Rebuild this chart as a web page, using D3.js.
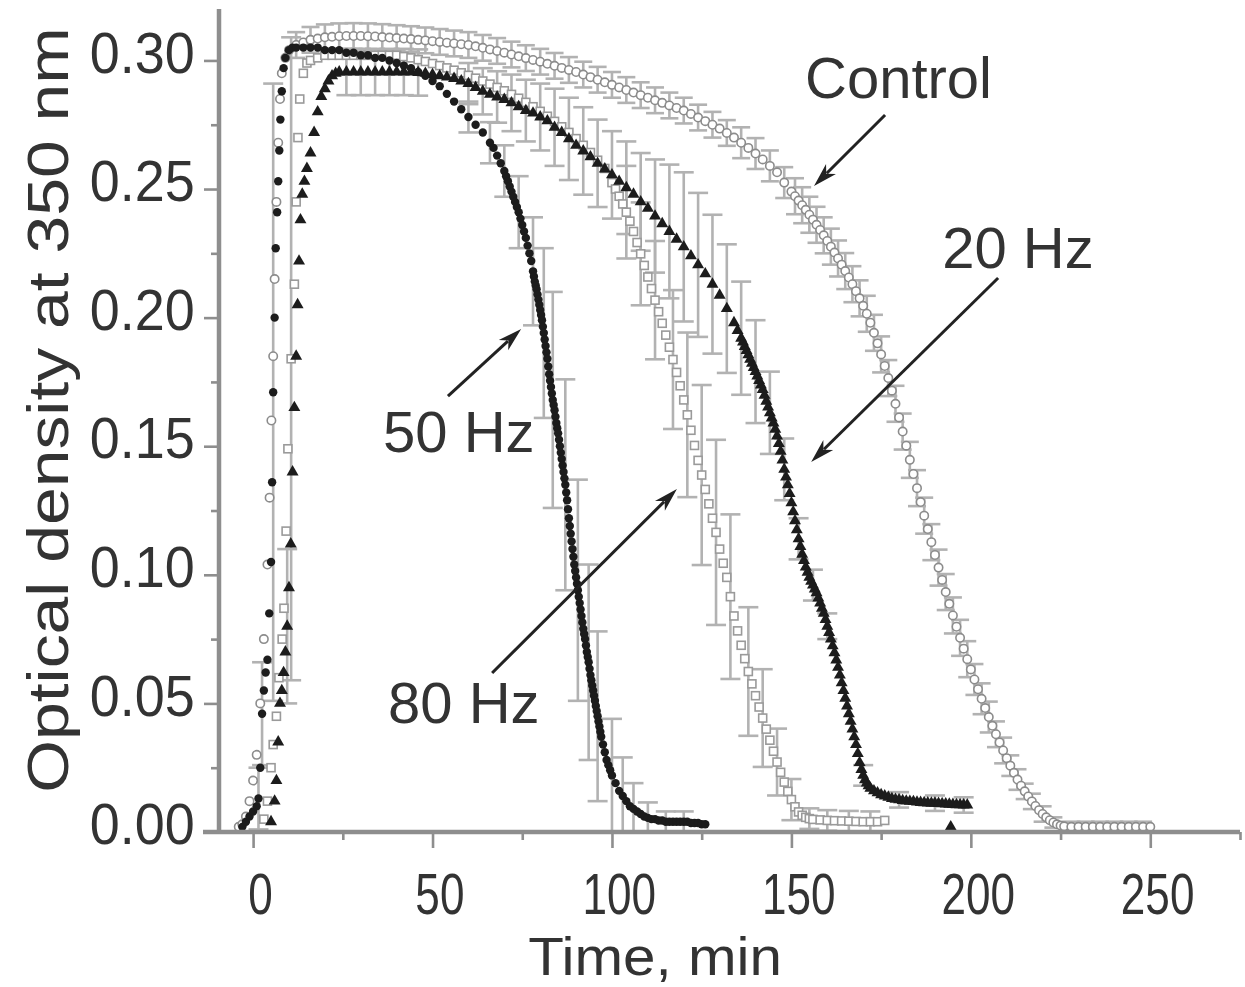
<!DOCTYPE html>
<html><head><meta charset="utf-8">
<script src="https://cdn.jsdelivr.net/npm/d3@7"></script>
<style>body{margin:0;background:#fff}svg{display:block}</style>
</head><body><svg id="c" width="1245" height="987"></svg>
<script>
// ---------------- data (time [min], optical density) ----------------
const xTicks = [0, 50, 100, 150, 200, 250];
const xMinor = [25, 75, 125, 175, 225, 275];
const yTicks = [0.00, 0.05, 0.10, 0.15, 0.20, 0.25, 0.30];
const yMinor = [0.025, 0.075, 0.125, 0.175, 0.225, 0.275];

const control = [[-4,0.002],[-3,0.003],[-2,0.006],[-1,0.012],[0,0.02],[1,0.03],[2,0.05],[3,0.075],[4,0.104],[4.6,0.13],[5.1,0.16],[5.6,0.185],[6,0.215],[6.5,0.245],[7,0.268],[7.5,0.285],[8,0.295],[9,0.301],[10,0.304],
[12,0.306],[14,0.307],[16,0.308],[18,0.3085],[20,0.309],[22,0.3092],[24,0.3094],[26,0.3095],[28,0.3095],[30,0.3095],[32,0.3094],[34,0.3093],[36,0.3091],[38,0.3089],[40,0.3087],[42,0.3085],[44,0.3083],[46,0.308],[48,0.3078],[50,0.3075],[52,0.3072],[54,0.3069],[56,0.3066],[58,0.3063],
[60,0.306],[62,0.3055],[64,0.3049],[66,0.3043],[68,0.3037],[70,0.303],[72,0.3023],[74,0.3016],[76,0.3009],[78,0.3002],[80,0.2995],[82,0.2987],[84,0.2979],[86,0.2971],[88,0.2963],[90,0.2955],[92,0.2945],[94,0.2935],[96,0.2925],[98,0.2915],[100,0.2905],
[102,0.2895],[104,0.2885],[106,0.2875],[108,0.2865],[110,0.2855],[112,0.2845],[114,0.2835],[116,0.2825],[118,0.2815],[120,0.2805],[122,0.2792],[124,0.2778],[126,0.2764],[128,0.275],[130,0.2735],[132,0.2718],[134,0.27],[136,0.268],[138,0.266],[140,0.2638],[142,0.2615],[144,0.259],[146,0.2565],[148,0.2525],[150,0.249],
[151,0.2472],[152,0.2455],[153,0.2437],[154,0.2419],[155,0.24],[156,0.2381],[157,0.2361],[158,0.2341],[159,0.232],[160,0.2298],[161,0.2276],[162,0.2253],[163,0.223],[164,0.2206],[165,0.2181],[166,0.2156],[167,0.213],[168,0.2103],[169,0.2075],[170,0.2046],[171,0.2015],[172,0.198],
[173,0.1941],[174,0.19],[175,0.1857],[176,0.1812],[177,0.1765],[178,0.1716],[179,0.1665],[180,0.1612],[181,0.1557],[182,0.1502],[183,0.1447],[184,0.1392],[185,0.1337],[186,0.1283],[187,0.123],[188,0.1178],[189,0.1127],[190,0.1077],[191,0.1028],[192,0.098],[193,0.0933],[194,0.0887],[195,0.0842],[196,0.0798],[197,0.0755],[198,0.0713],[199,0.0672],[200,0.0632],
[201,0.0593],[202,0.0555],[203,0.0518],[204,0.0482],[205,0.0447],[206,0.0413],[207,0.038],[208,0.0348],[209,0.0317],[210,0.0287],[211,0.0258],[212,0.023],[213,0.0204],[214,0.018],[215,0.0158],[216,0.0138],[217,0.0119],[218,0.0101],[219,0.0085],[220,0.007],[221,0.0057],[222,0.0046],[223,0.0037],[224,0.003],[225,0.0025],[226,0.0022],
[228,0.002],[230,0.002],[232,0.002],[234,0.002],[236,0.002],[238,0.002],[240,0.002],[242,0.002],[244,0.002],[246,0.002],[248,0.002],[250,0.002]];

const hz80 = [[3,0.005],[4,0.012],[5,0.025],[5.6,0.034],[6.5,0.045],[7.2,0.06],[8.1,0.075],[8.6,0.087],[9.2,0.117],[9.7,0.149],[10.6,0.184],[11.5,0.213],[12,0.245],[12.5,0.27],[13,0.285],[14,0.295],[15,0.299],[16,0.3],
[18,0.301],[20,0.302],[22,0.302],[24,0.302],[26,0.302],[28,0.302],[30,0.302],[32,0.302],[34,0.302],[36,0.302],[38,0.302],[40,0.302],[42,0.3015],[44,0.301],[46,0.3003],[48,0.2996],[50,0.2988],[52,0.298],[54,0.2971],[56,0.2962],[58,0.2952],[60,0.2942],
[62,0.2931],[64,0.292],[66,0.2908],[68,0.2895],[70,0.2882],[72,0.2868],[74,0.2853],[76,0.2837],[78,0.282],[80,0.2802],[82,0.2783],[84,0.2763],[86,0.2742],[88,0.272],[90,0.2696],[92,0.267],[94,0.2642],[96,0.2612],[98,0.258],
[100,0.2525],[101,0.25],[102,0.2472],[103,0.2442],[104,0.241],[105,0.2375],[106,0.2335],[107,0.2292],[108,0.2248],[109,0.2203],[110,0.2158],[111,0.2113],[112,0.2068],[113,0.2023],[114,0.1978],[115,0.1932],[116,0.1885],[117,0.1837],[118,0.1787],[119,0.1735],
[120,0.168],[121,0.1622],[122,0.1562],[123,0.1503],[124,0.1445],[125,0.1388],[126,0.1332],[127,0.1276],[128,0.122],[129,0.1165],[130,0.11],[131,0.1045],[132,0.099],[133,0.0915],[134,0.084],[135,0.0782],[136,0.0726],[137,0.0674],[138,0.0624],[139,0.0576],[140,0.053],
[141,0.0486],[142,0.0443],[143,0.04],[144,0.0357],[145,0.0314],[146,0.0272],[147,0.0232],[148,0.0194],[149,0.0158],[150,0.0126],[151,0.0098],[152,0.0078],[153,0.0065],[154,0.0057],[155,0.0052],[156,0.0049],[158,0.0047],[160,0.0045],[162,0.0044],[164,0.0043],[166,0.0042],[168,0.0041],[170,0.004],[172,0.004],[174,0.004],[176,0.0045]];

const hz20 = [[5,0.004],[6,0.012],[6.5,0.02],[7,0.035],[7.5,0.05],[8,0.055],[8.5,0.062],[9,0.07],[9.5,0.08],[10,0.095],[10.5,0.112],[11,0.14],[11.5,0.165],[12,0.185],[12.4,0.205],[12.8,0.222],[13.2,0.238],[13.7,0.248],[14.3,0.253],[15,0.258],[16,0.264],[17,0.272],[18,0.28],[19,0.286],[20,0.289],[21,0.292],[22,0.294],[23,0.295],[24,0.2955],
[26,0.2955],[28,0.2955],[30,0.2955],[32,0.2955],[34,0.2955],[36,0.2955],[38,0.2955],[40,0.2955],[42,0.2955],[44,0.2955],[46,0.2953],[48,0.295],[50,0.2945],[52,0.294],[54,0.2935],[56,0.293],[58,0.292],[60,0.291],[62,0.2895],[64,0.288],[66,0.2868],[68,0.2858],[70,0.2848],[72,0.2835],[74,0.282],[76,0.2805],[78,0.2795],[80,0.278],
[82,0.2765],[84,0.274],[86,0.272],[88,0.2695],[90,0.267],[92,0.2648],[94,0.2625],[96,0.26],[98,0.2578],[100,0.2555],[102,0.253],[104,0.2505],[106,0.248],[108,0.245],[110,0.2425],[112,0.2395],[114,0.2365],[116,0.2335],[118,0.2305],[120,0.2275],[122,0.224],[124,0.2205],[126,0.217],[128,0.213],[130,0.2087],[132,0.2035],[134,0.198],[135,0.195],
[136,0.192],[136.5,0.1905],[137,0.1888],[137.5,0.1872],[138,0.1855],[138.5,0.1838],[139,0.1822],[139.5,0.1806],[140,0.179],[140.5,0.1773],[141,0.1755],[141.5,0.1738],[142,0.172],[142.5,0.1698],[143,0.1675],[143.5,0.1652],[144,0.163],[144.5,0.161],[145,0.159],[145.5,0.1566],[146,0.154],[146.5,0.151],[147,0.148],[147.5,0.1446],[148,0.141],[148.5,0.138],[149,0.135],[149.5,0.1316],
[150,0.128],[150.5,0.1245],[151,0.121],[151.5,0.1175],[152,0.114],[152.5,0.111],[153,0.108],[153.5,0.1055],[154,0.103],[154.5,0.101],[155,0.099],[155.5,0.0975],[156,0.096],[156.5,0.0945],[157,0.093],[157.5,0.091],[158,0.089],[158.5,0.087],[159,0.085],[159.5,0.0826],[160,0.08],[160.5,0.0776],[161,0.075],[161.5,0.0724],[162,0.0697],[162.5,0.0669],
[163,0.064],[163.5,0.061],[164,0.058],[164.5,0.055],[165,0.052],[165.5,0.049],[166,0.046],[166.5,0.043],[167,0.04],[167.5,0.037],[168,0.034],[168.5,0.0305],[169,0.027],[169.5,0.0243],[170,0.022],[170.5,0.0203],[171,0.019],[171.5,0.018],[172,0.017],[173,0.016],[174,0.0152],[175,0.0145],[176,0.014],[177,0.0135],[178,0.013],[179,0.0127],[180,0.0125],
[181,0.0122],[182,0.012],[183,0.0119],[184,0.0118],[185,0.0116],[186,0.0115],[187,0.0114],[188,0.0113],[189,0.0112],[190,0.0112],[191,0.0111],[192,0.011],[193,0.0109],[194,0.0108],[195,0.0107],[196,0.0106],[197,0.0106],[198,0.0105],[199,0.0105],[194.4,0.002]];

const hz50 = [[-3,0.002],[-2,0.004],[-1,0.006],[0,0.008],[1,0.01],[1.5,0.013],[2,0.025],[2.5,0.046],[3,0.055],[3.5,0.062],[4,0.067],[4.5,0.085],[5,0.105],[5.3,0.136],[5.6,0.171],[6,0.2],[6.3,0.227],[6.7,0.241],[7,0.253],[7.3,0.265],[7.6,0.277],[8,0.288],[8.5,0.297],[9,0.301],[10,0.304],[11,0.305],[12,0.305],
[14,0.305],[16,0.305],[18,0.305],[20,0.304],[22,0.304],[24,0.304],[26,0.303],[28,0.303],[30,0.302],[32,0.302],[34,0.301],[36,0.301],[38,0.3],[40,0.299],[42,0.298],[44,0.297],[46,0.2955],[48,0.294],[50,0.292],[52,0.29],[54,0.287],[56,0.284],[58,0.281],[60,0.278],[62,0.275],[64,0.272],[66,0.268],
[67,0.266],[68,0.263],[69,0.26],[70,0.257],[70.5,0.255],[71,0.253],[71.5,0.251],[72,0.249],[72.5,0.247],[73,0.245],[73.5,0.243],[74,0.241],[74.5,0.2385],[75,0.236],[75.5,0.2335],[76,0.231],[76.5,0.228],[77,0.225],[77.5,0.222],
[78,0.218],[78.25,0.216],[78.5,0.214],[78.75,0.2125],[79,0.211],[79.25,0.209],[79.5,0.207],[79.75,0.205],[80,0.203],[80.25,0.201],[80.5,0.199],[80.75,0.1965],[81,0.194],[81.25,0.1915],[81.5,0.189],[81.75,0.1865],[82,0.184],[82.25,0.181],[82.5,0.178],[82.75,0.1755],[83,0.173],[83.25,0.1705],[83.5,0.168],[83.75,0.166],
[84,0.164],[84.25,0.1615],[84.5,0.159],[84.75,0.157],[85,0.155],[85.25,0.1525],[85.5,0.15],[85.75,0.1475],[86,0.145],[86.25,0.1425],[86.5,0.14],[86.75,0.1375],[87,0.135],[87.25,0.132],[87.5,0.129],[87.75,0.1255],[88,0.122],[88.25,0.119],[88.5,0.116],[88.75,0.113],[89,0.11],[89.25,0.107],[89.5,0.104],[89.75,0.1015],
[90,0.099],[90.25,0.0965],[90.5,0.094],[90.75,0.0915],[91,0.089],[91.25,0.0865],[91.5,0.084],[91.75,0.0815],[92,0.079],[92.25,0.077],[92.5,0.075],[92.75,0.0725],[93,0.07],[93.25,0.068],[93.5,0.066],[93.75,0.0635],[94,0.061],[94.25,0.059],[94.5,0.057],[94.75,0.055],[95,0.053],[95.25,0.051],[95.5,0.049],[95.75,0.047],
[96,0.045],[96.25,0.043],[96.5,0.041],[96.75,0.039],[97,0.037],[97.5,0.034],[98,0.031],[98.5,0.028],[99,0.026],[99.5,0.024],[100,0.022],
[101,0.019],[102,0.016],[103,0.014],[104,0.012],[105,0.01],[106,0.009],[107,0.008],[108,0.007],[109,0.006],[110,0.0055],[111,0.005],[112,0.005],[113,0.0045],[114,0.0045],[115,0.004],[116,0.004],[117,0.004],[118,0.004],[119,0.004],[120,0.004],[121,0.004],[122,0.0035],[123,0.0035],[124,0.0035],[125,0.003],[126,0.003]];

// error bars: [time, half-width]; centre = series value at that time
const controlErr = [[12,0.005],[16,0.005],[20,0.005],[24,0.005],[28,0.005],[32,0.005],[36,0.005],[40,0.005],[44,0.005],[48,0.005],[52,0.005],[56,0.005],[60,0.005],[64,0.005],[68,0.005],[72,0.005],[76,0.005],[80,0.005],[84,0.005],[88,0.005],[92,0.005],[96,0.005],[100,0.005],[104,0.005],[108,0.005],[112,0.005],[116,0.005],[120,0.005],[124,0.005],[128,0.005],[132,0.005],[136,0.006],[140,0.006],[144,0.006],[148,0.006],
[151,0.007],[153,0.007],[155,0.007],[157,0.007],[159,0.007],[161,0.007],[163,0.007],[165,0.007],[167,0.007],[169,0.007],[171,0.007],[173,0.007],[175,0.007],[177,0.007],[179,0.007],[181,0.007],[183,0.007],[185,0.007],[187,0.007],[189,0.007],[191,0.007],[193,0.007],[195,0.007],[197,0.007],[199,0.007],[201,0.006],[203,0.006],[205,0.006],[207,0.005],[209,0.005],[211,0.004],[213,0.004],[215,0.003],[217,0.003],[220,0.003],[223,0.002],[228,0.002],[232,0.002],[236,0.002],[240,0.002],[244,0.002],[248,0.002]];
const hz80Err = [[10.6,0.125],[104,0.018],[108,0.02],[112,0.023],[117,0.027],[121,0.032],[125,0.035],[129,0.036],[133,0.032],[138,0.025],[142,0.019],[146,0.013],[150,0.008],[155,0.004],[160,0.004],[166,0.004],[172,0.004]];
const hz20Err = [[9.5,0.03],[26,0.009],[30,0.009],[34,0.009],[38,0.009],[42,0.009],[46,0.009],[60,0.008],[64,0.009],[68,0.01],[72,0.011],[76,0.012],[80,0.013],[84,0.015],[88,0.016],[92,0.017],[96,0.017],[100,0.017],[104,0.018],[108,0.019],[112,0.022],[116,0.026],[120,0.029],[124,0.028],[128,0.027],[132,0.025],[136,0.022],[140,0.02],[144,0.016],[148,0.012],[152,0.008],[156,0.006],[160,0.005],[170,0.004],[180,0.003],[190,0.003],[198,0.003]];
const hz50Err = [[1.5,0.012],[2.5,0.02],[5.6,0.12],[60,0.006],[66,0.008],[70,0.01],[74,0.014],[78,0.021],[81,0.033],[83.5,0.042],[87,0.041],[90.5,0.043],[93.5,0.038],[96,0.033],[100,0.022],[103,0.015],[106,0.01],[110,0.006],[115,0.004],[120,0.004]];

// annotations: label, text anchor (time, OD), arrow tail, arrow tip
const labels = ["Control", "20 Hz", "50 Hz", "80 Hz"];
const labelPos = [[153.8,0.2854],[192,0.2193],[36.2,0.1477],[37.6,0.0424]];
const arrowFrom = [[176.1,0.2788],[207.6,0.2154],[54.3,0.1695],[66.6,0.0618]];
const arrowTo = [[156.3,0.2512],[155.5,0.1439],[74.7,0.1956],[118.1,0.1334]];

// ---------------- drawing ----------------
const FONT = '"Liberation Sans", Arial, Helvetica, sans-serif';
const AX = '#8e8e8e', TXT = '#333333';
const svg = d3.select('#c');
const x = d3.scaleLinear().domain([-9.5, 275]).range([219, 1240]);
const y = d3.scaleLinear().domain([0, 0.32]).range([832, 9]);

// error bars
const gErr = svg.append('g').attr('stroke', '#b2b2b2').attr('stroke-width', 2.6);
function errBars(series, errs, cap) {
  errs.forEach(([t, hw]) => {
    const p = series.find(d => Math.abs(d[0] - t) < 1e-6);
    if (!p) return;
    const cx = x(t), y1 = y(Math.max(0, p[1] - hw)), y2 = y(p[1] + hw);
    gErr.append('line').attr('x1', cx).attr('x2', cx).attr('y1', y1).attr('y2', y2);
    gErr.append('line').attr('x1', cx - cap).attr('x2', cx + cap).attr('y1', y1).attr('y2', y1);
    gErr.append('line').attr('x1', cx - cap).attr('x2', cx + cap).attr('y1', y2).attr('y2', y2);
  });
}
errBars(control, controlErr, 9);
errBars(hz80, hz80Err, 10);
errBars(hz20, hz20Err, 10);
errBars(hz50, hz50Err, 10);

// control: open circles
svg.append('g').selectAll('circle').data(control).join('circle')
  .attr('cx', d => x(d[0])).attr('cy', d => y(d[1])).attr('r', 4.2)
  .attr('fill', '#fff').attr('stroke', '#8c8c8c').attr('stroke-width', 1.6);
// 80 Hz: open squares
svg.append('g').selectAll('rect').data(hz80).join('rect')
  .attr('x', d => x(d[0]) - 4).attr('y', d => y(d[1]) - 4).attr('width', 8).attr('height', 8)
  .attr('fill', '#fff').attr('stroke', '#9a9a9a').attr('stroke-width', 1.6);
// 20 Hz: filled triangles
const tri = d3.symbol(d3.symbolTriangle, 62)();
svg.append('g').selectAll('path').data(hz20).join('path')
  .attr('d', tri).attr('transform', d => `translate(${x(d[0])},${y(d[1])})`).attr('fill', '#1c1c1c');
// 50 Hz: filled circles
svg.append('g').selectAll('circle').data(hz50).join('circle')
  .attr('cx', d => x(d[0])).attr('cy', d => y(d[1])).attr('r', 4.2).attr('fill', '#1c1c1c');

// axes
const gx = svg.append('g').attr('transform', `translate(0,${y(0)})`).attr('color', AX);
gx.call(d3.axisBottom(x).tickValues(xTicks).tickSize(16).tickFormat(d3.format('d')));
gx.append('g').call(d3.axisBottom(x).tickValues(xMinor).tickSize(8).tickFormat(''));
gx.selectAll('.domain').remove();
gx.selectAll('.tick line').attr('stroke-width', 2.6);
gx.append('line').attr('x1', x.range()[0] - 16).attr('x2', x.range()[1]).attr('stroke', AX).attr('stroke-width', 4.5);
gx.selectAll('.tick text').attr('font-family', FONT).attr('font-size', 58).attr('fill', TXT)
  .attr('y', 82).attr('dy', 0).attr('dx', 9).attr('transform', 'scale(0.76,1)');

const gy = svg.append('g').attr('transform', `translate(${x.range()[0]},0)`).attr('color', AX);
gy.call(d3.axisLeft(y).tickValues(yTicks).tickSize(15).tickFormat(d3.format('.2f')));
gy.append('g').call(d3.axisLeft(y).tickValues(yMinor).tickSize(8).tickFormat(''));
gy.selectAll('.domain').remove();
gy.selectAll('.tick line').attr('stroke-width', 2.6);
gy.append('line').attr('y1', y(0)).attr('y2', y.range()[1]).attr('stroke', AX).attr('stroke-width', 4.5);
gy.selectAll('.tick text').attr('font-family', FONT).attr('font-size', 58).attr('fill', TXT)
  .attr('x', -26).attr('dy', '0.2em').attr('transform', 'scale(0.93,1)');

// axis titles
svg.append('text').attr('transform', 'translate(655,975) scale(1.08,1)').attr('text-anchor', 'middle')
  .attr('font-family', FONT).attr('font-size', 54).attr('fill', TXT).text('Time, min');
svg.append('text').attr('transform', `translate(68,410) rotate(-90) scale(1.17,1)`).attr('text-anchor', 'middle')
  .attr('font-family', FONT).attr('font-size', 58).attr('fill', TXT).text('Optical density at 350 nm');

// annotations
const gA = svg.append('g');
labels.forEach((lab, i) => {
  gA.append('text').attr('x', x(labelPos[i][0])).attr('y', y(labelPos[i][1]))
    .attr('font-family', FONT).attr('font-size', 58).attr('fill', TXT).text(lab);
  const x1 = x(arrowFrom[i][0]), y1 = y(arrowFrom[i][1]), x2 = x(arrowTo[i][0]), y2 = y(arrowTo[i][1]);
  const ang = Math.atan2(y2 - y1, x2 - x1);
  const L = 24, W = 7;
  const bx = x2 - L * 0.75 * Math.cos(ang), by = y2 - L * 0.75 * Math.sin(ang);
  gA.append('line').attr('x1', x1).attr('y1', y1).attr('x2', bx).attr('y2', by)
    .attr('stroke', '#222').attr('stroke-width', 3);
  const p = (l, w) => [x2 - l * Math.cos(ang) - w * Math.sin(ang), y2 - l * Math.sin(ang) + w * Math.cos(ang)];
  const pts = [[x2, y2], p(L, W), p(L * 0.72, 0), p(L, -W)];
  gA.append('path').attr('d', 'M' + pts.map(q => q.join(',')).join('L') + 'Z').attr('fill', '#222');
});
</script>
</body></html>
